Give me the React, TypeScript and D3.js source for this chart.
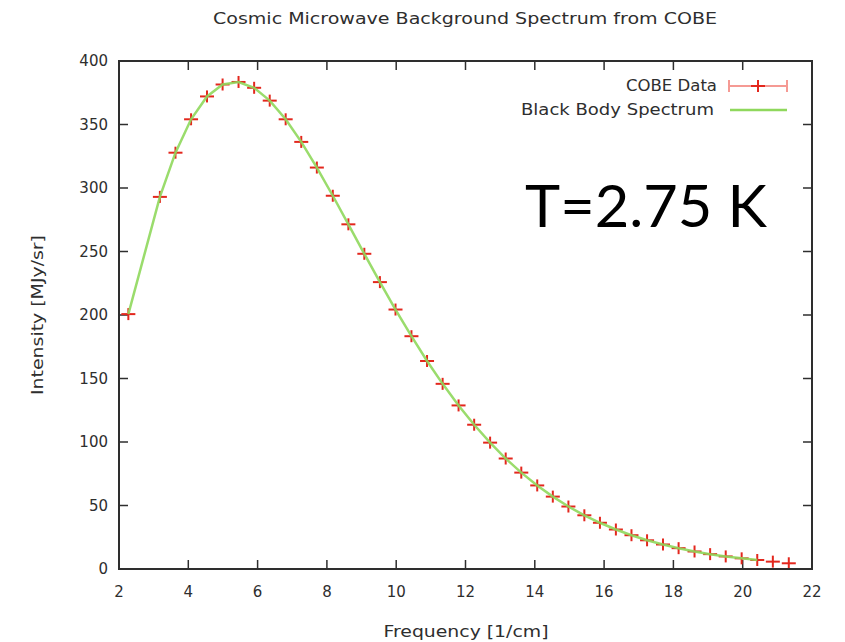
import { useMemo } from "react";
import { scaleLinear, line, range } from "d3";

// COBE FIRAS data (the 2.72 point is not visible there)
const freq = [2.27, 3.18, 3.63, 4.08, 4.54, 4.99, 5.45, 5.90, 6.35, 6.81, 7.26, 7.71, 8.17, 8.62, 9.08, 9.53, 9.98, 10.44, 10.89, 11.34, 11.80, 12.25, 12.71, 13.16, 13.61, 14.07, 14.52, 14.97, 15.43, 15.88, 16.34, 16.79, 17.24, 17.70, 18.15, 18.61, 19.06, 19.51, 19.97, 20.42, 20.87, 21.33];
const intensity = [200.7, 293.0, 327.8, 354.1, 372.1, 381.5, 383.5, 378.9, 368.8, 354.1, 336.3, 316.1, 293.9, 271.4, 248.2, 225.9, 204.3, 183.3, 163.8, 145.8, 128.8, 113.6, 99.5, 87.0, 75.9, 65.8, 57.0, 49.2, 42.3, 36.4, 31.1, 26.6, 22.6, 19.3, 16.4, 13.8, 11.7, 9.9, 8.4, 7.1, 5.8, 4.5];

// black body curve, drawn through the same frequencies up to 20.42
const bodyFreq = freq.slice(0, 40);
const bodyIntensity = intensity.slice(0, 40);

const xTicks = range(2, 23, 2);
const yTicks = range(0, 401, 50);

const W = 845;
const H = 642;
const plot = { left: 119, right: 812, top: 61, bottom: 569 };

const RED = "#e3271d";
const PINK = "#f59a94";
const GREEN = "#8fd85c";
const INK = "#2e2e2e";
const FONT = "'DejaVu Sans', sans-serif";

function Cross({ x, y, color }) {
    return (
        <g stroke={color} strokeWidth={2}>
            <line x1={x - 7} x2={x + 7} y1={y} y2={y} />
            <line x1={x} x2={x} y1={y - 6} y2={y + 6} />
        </g>
    );
}

export default function App() {
    const x = useMemo(() => scaleLinear().domain([2, 22]).range([plot.left, plot.right]), []);
    const y = useMemo(() => scaleLinear().domain([0, 400]).range([plot.bottom, plot.top]), []);

    const bodyPath = line<number>()
        .x((_, i) => x(bodyFreq[i]))
        .y((_, i) => y(bodyIntensity[i]))(bodyFreq);

    const tickLen = 9;

    return (
        <svg
            width={W}
            height={H}
            viewBox={`0 0 ${W} ${H}`}
            style={{ position: "absolute", left: 0, top: 0, background: "#fff" }}
        >
            <text x={465} y={24} textAnchor="middle" fontFamily={FONT} fontSize={16} fill={INK}
                textLength={504} lengthAdjust="spacingAndGlyphs">
                Cosmic Microwave Background Spectrum from COBE
            </text>

            {/* ticks, gnuplot style: inward and mirrored */}
            <g stroke={INK} strokeWidth={1.5}>
                {xTicks.map(t => (
                    <g key={`xt${t}`}>
                        <line x1={x(t)} x2={x(t)} y1={plot.bottom} y2={plot.bottom - tickLen} />
                        <line x1={x(t)} x2={x(t)} y1={plot.top} y2={plot.top + tickLen} />
                    </g>
                ))}
                {yTicks.map(t => (
                    <g key={`yt${t}`}>
                        <line x1={plot.left} x2={plot.left + tickLen} y1={y(t)} y2={y(t)} />
                        <line x1={plot.right} x2={plot.right - tickLen} y1={y(t)} y2={y(t)} />
                    </g>
                ))}
            </g>

            <g fontFamily={FONT} fontSize={15} fill={INK}>
                {xTicks.map(t => (
                    <text key={`xl${t}`} x={x(t)} y={597} textAnchor="middle">{t}</text>
                ))}
                {yTicks.map(t => (
                    <text key={`yl${t}`} x={108} y={y(t)} dy="0.35em" textAnchor="end">{t}</text>
                ))}
            </g>

            <text x={466} y={637} textAnchor="middle" fontFamily={FONT} fontSize={15} fill={INK}
                textLength={165} lengthAdjust="spacingAndGlyphs">
                Frequency [1/cm]
            </text>
            <text transform="translate(43, 315) rotate(-90)" textAnchor="middle" fontFamily={FONT} fontSize={15} fill={INK}
                textLength={160} lengthAdjust="spacingAndGlyphs">
                Intensity [MJy/sr]
            </text>

            {/* data points */}
            {freq.map((f, i) => (
                <Cross key={`p${i}`} x={x(f)} y={y(intensity[i])} color={RED} />
            ))}

            {/* black body curve */}
            <path d={bodyPath ?? ""} fill="none" stroke={GREEN} strokeWidth={2.5} strokeOpacity={0.9} />

            {/* legend */}
            <g fontFamily={FONT} fontSize={15} fill={INK} textAnchor="end">
                <text x={717} y={86} dy="0.35em" textLength={91} lengthAdjust="spacingAndGlyphs">COBE Data</text>
                <text x={714} y={110} dy="0.35em" textLength={193} lengthAdjust="spacingAndGlyphs">Black Body Spectrum</text>
            </g>
            <g stroke={PINK} strokeWidth={2}>
                <line x1={729} x2={787} y1={86} y2={86} />
                <line x1={729} x2={729} y1={80} y2={92} />
                <line x1={787} x2={787} y1={80} y2={92} />
            </g>
            <Cross x={758} y={86} color={RED} />
            <line x1={730} x2={787} y1={110} y2={110} stroke={GREEN} strokeWidth={2.5} />

            {/* frame */}
            <rect x={plot.left} y={plot.top} width={plot.right - plot.left} height={plot.bottom - plot.top}
                fill="none" stroke={INK} strokeWidth={2} />

            <text x={525} y={227} fontFamily="Lato, sans-serif" fontSize={58} fill="#000"
                textLength={242} lengthAdjust="spacingAndGlyphs">
                T=2.75 K
            </text>
        </svg>
    );
}
